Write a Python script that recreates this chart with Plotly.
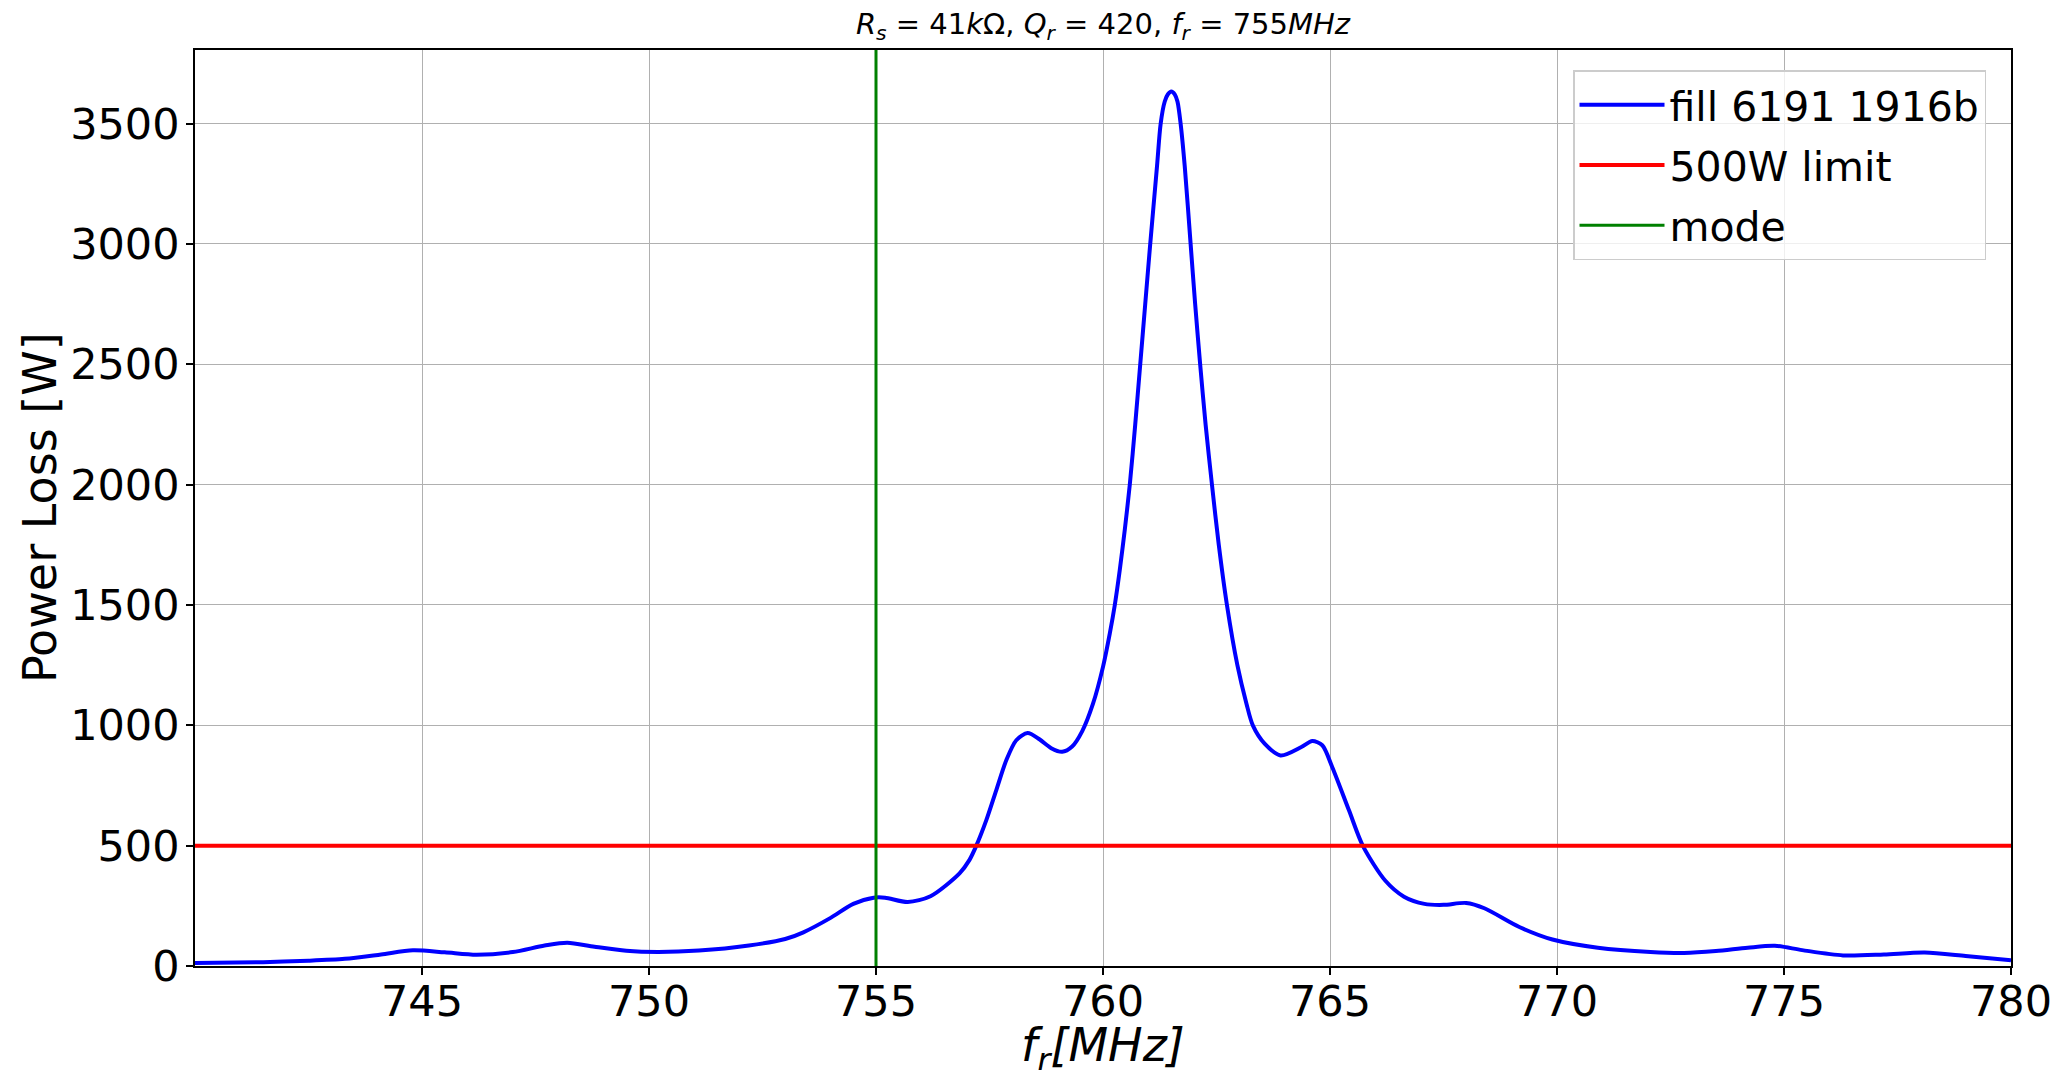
import plotly.graph_objects as go

# ---- data ----
freq_mhz = [740.0, 741.5, 742.5, 743.3, 744.1, 744.8, 745.5, 746.2, 747.0, 747.7,
            748.2, 748.8, 749.5, 750.2, 751.1, 752.2, 753.0, 753.4, 754.0, 754.5,
            754.95, 755.2, 755.7, 756.2, 756.84, 757.06, 757.21, 757.43, 757.65, 757.87,
            758.09, 758.34, 758.6, 758.86, 759.1, 759.32, 759.54, 759.78, 760.0, 760.15,
            760.26, 760.37, 760.48, 760.59, 760.71, 760.82, 760.93, 761.04, 761.19, 761.27,
            761.36, 761.43, 761.505, 761.58, 761.64, 761.71, 761.8, 761.93, 762.03, 762.14,
            762.26, 762.4, 762.55, 762.73, 762.96, 763.16, 763.3, 763.56, 763.91, 764.37,
            764.61, 764.83, 765.05, 765.42, 765.73, 766.22, 766.63, 767.08, 767.5, 768.0,
            768.4, 769.17, 769.9, 770.9, 772.06, 772.8, 773.5, 774.2, 774.8, 775.4,
            776.3, 777.2, 778.1, 779.0, 780.0]
power_w = [12, 16, 22, 30, 48, 65, 57, 47, 58, 85,
           97, 80, 63, 58, 64, 85, 112, 140, 200, 258,
           284, 284, 266, 290, 385, 441, 500, 606, 731, 855,
           938, 968, 942, 905, 890, 912, 975, 1090, 1243, 1382,
           1500, 1646, 1813, 2000, 2250, 2500, 2750, 3000, 3324, 3500,
           3592, 3622, 3634, 3622, 3592, 3500, 3324, 3000, 2750, 2500,
           2250, 2000, 1750, 1500, 1250, 1090, 1000, 924, 875, 910,
           935, 917, 826, 646, 497, 354, 288, 258, 254, 262,
           240, 162, 110, 76, 58, 54, 62, 76, 84, 66,
           44, 48, 56, 42, 24]
limit_w = 500
mode_mhz = 755
x_range = [740.0, 780.0]
y_range = [0, 3806]
x_ticks = [745, 750, 755, 760, 765, 770, 775, 780]
y_ticks = [0, 500, 1000, 1500, 2000, 2500, 3000, 3500]

FONT = "DejaVu Sans"

fig = go.Figure()
fig.add_trace(go.Scatter(x=freq_mhz, y=power_w, mode="lines", name="fill 6191 1916b",
                         legendgroup="a",
                         line=dict(color="#0000ff", width=4, shape="spline", smoothing=0.8)))
fig.add_trace(go.Scatter(x=x_range, y=[limit_w, limit_w], mode="lines", name="500W limit",
                         legendgroup="b",
                         line=dict(color="#ff0000", width=4)))
fig.add_trace(go.Scatter(x=[mode_mhz, mode_mhz], y=y_range, mode="lines", name="mode",
                         legendgroup="c",
                         line=dict(color="#008000", width=3)))

axis_common = dict(
    showline=True, linecolor="black", linewidth=1.6, mirror=True,
    showgrid=True, gridcolor="#b0b0b0", gridwidth=1.4,
    ticks="outside", ticklen=7, tickwidth=1.6, tickcolor="black",
    zeroline=False, automargin=False,
    tickfont=dict(family=FONT, size=43, color="black"),
)

W, H = 2048, 1062
L, R, T, B = 187, 45, 42, 104
plot_w = W - L - R
plot_h = H - T - B

fig.update_layout(
    width=W, height=H,
    margin=dict(l=L, r=R, t=T, b=B),
    paper_bgcolor="white", plot_bgcolor="white",
    font=dict(family=FONT, color="black"),
    title=dict(
        text="<i>R</i><sub><i>s</i></sub> = 41<i>k</i>Ω, <i>Q</i><sub><i>r</i></sub> = 420, "
             "<i>f</i><sub><i>r</i></sub> = 755<i>MHz</i>",
        x=(L + (W - R)) / 2 / W, xanchor="center", y=1 - 16 / H, yanchor="middle",
        font=dict(family=FONT, size=29, color="black"),
    ),
    xaxis=dict(range=x_range, tickvals=x_ticks, ticktext=[str(t) for t in x_ticks],
               ticklabelstandoff=-10,
               **axis_common),
    yaxis=dict(range=y_range, tickvals=y_ticks, ticktext=[str(t) for t in y_ticks],
               ticklabelstandoff=-2,
               **axis_common),
    legend=dict(
        x=(1986 - 8 - L) / plot_w, y=1 - (70 - 8 - T) / plot_h,
        xanchor="right", yanchor="top",
        bgcolor="rgba(255,255,255,0.8)", bordercolor="#cccccc", borderwidth=1.5,
        font=dict(family=FONT, size=41, color="black"),
        itemwidth=85, tracegroupgap=4,
    ),
    showlegend=True,
)

# axis titles placed explicitly
fig.add_annotation(
    text="<i>f</i><sub><i>r</i></sub><i>[MHz]</i>",
    xref="paper", yref="paper", x=0.5, y=-(1048 - 8 - (H - B)) / plot_h,
    xanchor="center", yanchor="middle", showarrow=False,
    font=dict(family=FONT, size=46, color="black"),
)
fig.add_annotation(
    text="Power Loss [W]", textangle=-90,
    xref="paper", yref="paper", x=(32 - L) / plot_w, y=0.5,
    xanchor="center", yanchor="middle", showarrow=False,
    font=dict(family=FONT, size=46, color="black"),
)

fig.write_html("out.html")
